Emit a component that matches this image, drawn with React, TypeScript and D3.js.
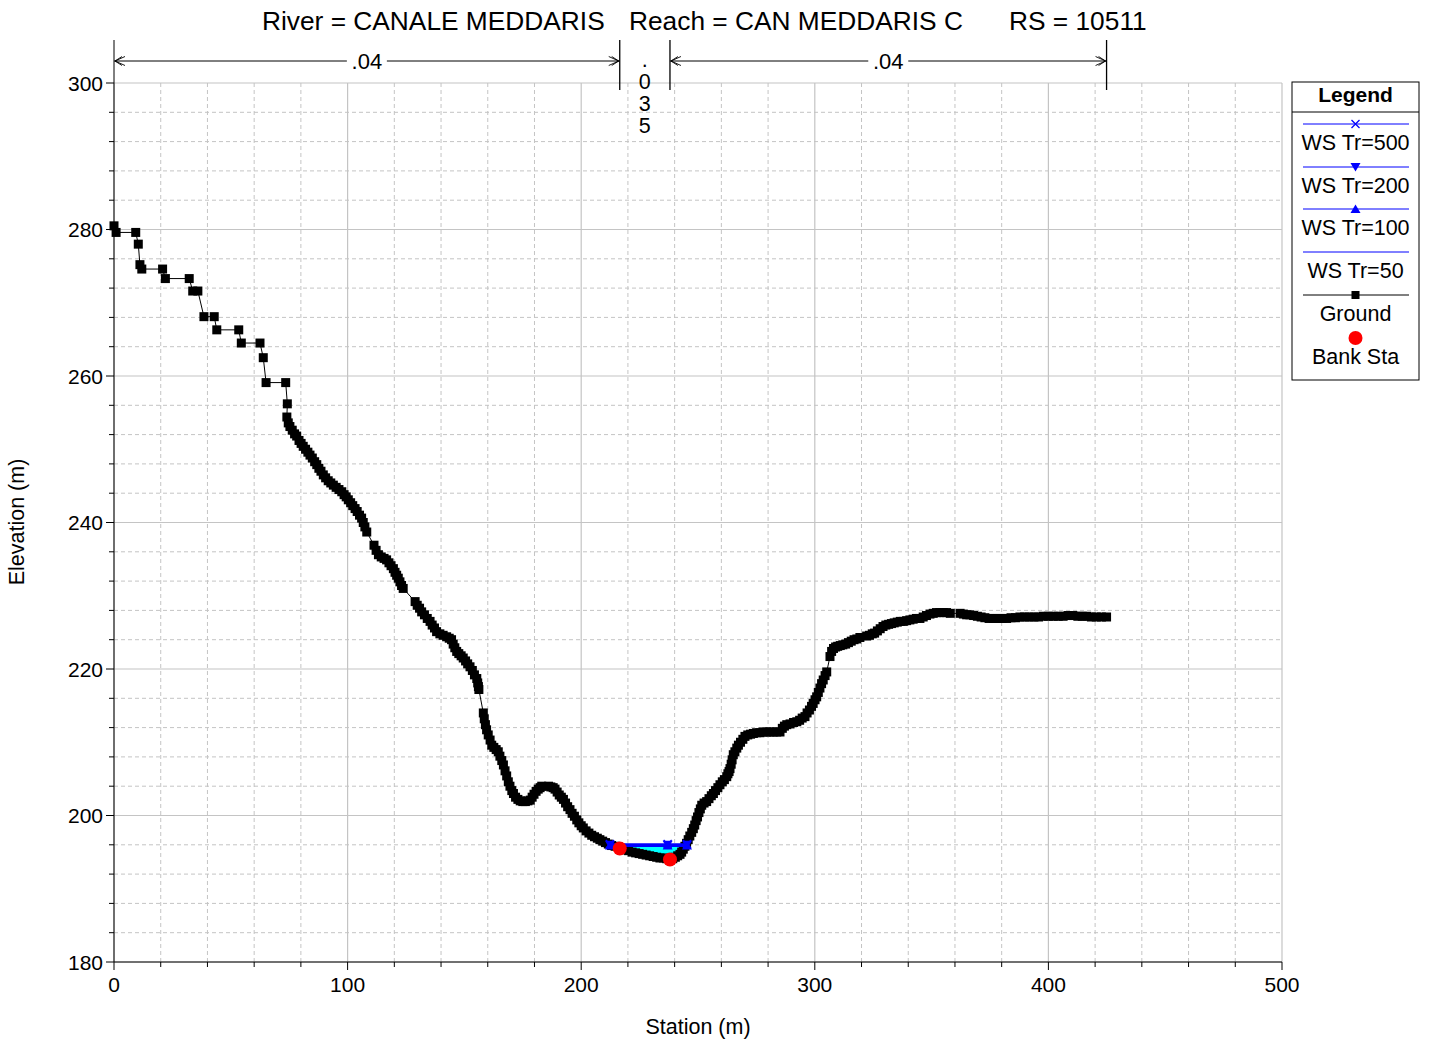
import React from 'react';
import * as d3 from 'd3';

// ---------- DATA ----------
const titleParts = ['River = CANALE MEDDARIS', 'Reach = CAN MEDDARIS C', 'RS = 10511'];
const xTicksMajor = [0, 100, 200, 300, 400, 500];
const yTicksMajor = [180, 200, 220, 240, 260, 280, 300];

// ground: [station, elevation]
const groundPoints: [number, number][] = [
  [0, 280.5], [0.9, 279.6], [9.3, 279.6], [10.4, 278.0], [11.1, 275.2], [11.9, 274.6], [20.8, 274.6],
  [22.0, 273.3], [32.2, 273.3], [33.7, 271.6], [35.9, 271.6], [38.5, 268.1], [42.9, 268.1], [44.0, 266.3],
  [53.4, 266.3], [54.5, 264.5], [62.5, 264.5], [63.9, 262.5], [65.1, 259.1], [73.5, 259.1], [74.2, 256.2],
  [74.0, 254.4], [74.6, 253.6], [75.3, 253.1], [76.3, 252.6], [77.3, 252.1], [78.2, 251.8], [79.2, 251.2],
  [80.1, 250.8], [81.0, 250.4], [82.0, 250.0], [83.0, 249.6], [83.9, 249.2], [84.9, 248.8], [85.9, 248.3],
  [86.8, 247.9], [87.7, 247.4], [88.6, 247.0], [89.6, 246.5], [90.6, 246.1], [91.7, 245.7], [92.8, 245.4],
  [93.9, 245.1], [95.1, 244.8], [96.3, 244.5], [97.5, 244.2], [98.5, 243.8], [99.4, 243.5], [100.3, 243.1],
  [101.3, 242.7], [102.2, 242.3], [103.2, 241.9], [104.1, 241.5], [105.1, 241.0], [106.0, 240.6],
  [106.7, 240.0], [107.4, 239.4], [108.2, 238.7],
  [111.3, 236.9], [112.2, 236.2], [113.2, 235.6], [114.4, 235.3], [115.6, 235.1], [116.7, 234.9],
  [117.7, 234.5], [118.6, 234.1], [119.6, 233.7], [120.3, 233.2], [121.0, 232.8], [121.7, 232.4],
  [122.4, 231.9], [123.1, 231.4], [123.8, 231.0],
  [128.9, 229.2], [129.8, 228.7], [130.8, 228.3], [131.7, 227.8], [132.9, 227.4], [134.1, 226.9],
  [135.3, 226.5], [136.2, 226.0], [137.2, 225.6], [138.1, 225.1], [139.5, 224.8], [140.9, 224.6],
  [142.4, 224.4], [143.5, 224.2], [144.5, 224.0], [145.2, 223.4], [145.9, 222.9], [146.7, 222.4],
  [147.6, 222.1], [148.6, 221.8], [149.5, 221.5], [150.5, 221.1], [151.4, 220.7], [152.4, 220.3],
  [153.4, 219.8], [154.3, 219.2], [155.3, 218.7], [155.7, 218.1], [156.0, 217.6], [156.2, 217.2],
  [158.1, 214.0], [158.5, 213.2], [159.0, 212.4], [159.5, 211.7], [160.2, 211.0], [161.0, 210.3],
  [161.7, 209.6], [162.6, 209.3], [163.6, 209.0], [164.5, 208.7], [165.2, 208.1], [166.0, 207.5],
  [166.7, 206.9], [167.4, 206.1], [168.1, 205.4], [168.8, 204.6], [169.5, 204.0], [170.3, 203.4],
  [171.0, 203.0], [171.9, 202.5], [172.9, 202.2], [173.9, 202.0], [175.0, 201.9], [176.1, 201.9],
  [177.2, 202.0], [178.2, 202.1], [179.0, 202.5], [179.8, 202.9], [180.7, 203.3], [181.6, 203.6],
  [182.4, 203.8], [183.1, 204.0],
  [186.0, 204.0], [187.0, 203.9], [188.0, 203.8], [188.8, 203.6], [189.7, 203.2], [190.6, 202.8],
  [191.5, 202.5], [192.4, 202.2], [193.3, 201.7], [194.2, 201.2], [195.2, 200.8], [196.1, 200.3],
  [197.1, 199.9], [198.1, 199.4], [199.0, 199.0], [200.0, 198.6], [200.9, 198.3], [202.1, 197.9],
  [203.3, 197.6], [204.5, 197.3], [205.7, 197.1], [206.9, 196.9], [208.0, 196.7], [209.2, 196.5],
  [210.4, 196.3], [211.6, 196.1], [213.0, 195.9], [214.5, 195.8], [215.9, 195.7], [217.3, 195.5],
  [218.8, 195.3], [220.3, 195.2], [221.8, 195.0], [223.3, 194.9], [224.8, 194.8], [226.3, 194.7],
  [227.8, 194.6], [229.3, 194.5], [230.8, 194.4], [232.3, 194.3], [233.7, 194.2], [235.2, 194.2],
  [236.6, 194.1], [238.0, 194.1], [239.2, 194.1], [240.3, 194.3], [241.3, 194.5], [242.3, 194.7],
  [243.0, 195.0], [243.7, 195.4], [244.4, 195.8], [245.1, 196.2], [245.8, 196.7], [246.5, 197.2],
  [247.3, 197.7], [248.0, 198.2], [248.6, 198.7], [249.2, 199.3], [249.8, 199.8], [250.4, 200.4],
  [251.0, 200.9], [251.6, 201.4], [252.6, 201.7], [253.7, 201.9], [254.7, 202.3], [255.7, 202.7],
  [256.6, 203.0], [257.5, 203.4], [258.5, 203.8], [259.4, 204.2], [260.4, 204.6], [261.3, 204.9],
  [262.3, 205.3], [262.8, 205.7], [263.3, 206.0], [263.7, 206.4], [264.2, 207.0], [264.6, 207.6],
  [265.1, 208.3], [265.8, 208.7], [266.6, 209.2], [267.3, 209.6], [268.2, 210.0], [269.2, 210.4],
  [270.1, 210.8], [271.3, 211.0], [272.5, 211.1], [273.7, 211.2], [275.1, 211.3], [276.5, 211.3],
  [277.9, 211.4], [279.4, 211.4], [280.8, 211.4], [282.2, 211.4], [283.7, 211.4], [285.1, 211.4],
  [286.1, 211.9], [287.0, 212.2], [288.0, 212.4], [289.4, 212.5], [290.9, 212.7], [292.3, 212.8],
  [293.5, 213.0], [294.6, 213.3], [295.8, 213.5], [296.7, 214.0], [297.7, 214.4], [298.6, 214.9],
  [299.3, 215.3], [300.1, 215.8], [300.8, 216.2], [301.5, 216.8], [302.2, 217.4], [302.9, 218.0],
  [303.6, 218.5], [304.4, 219.1], [305.1, 219.6],
  [306.5, 221.7], [307.2, 222.4], [308.0, 222.8], [308.9, 223.0], [309.8, 223.1], [310.9, 223.2],
  [312.0, 223.3], [313.2, 223.4], [314.4, 223.6], [315.6, 223.8], [316.8, 224.0], [318.0, 224.1],
  [319.3, 224.3],
  [322.2, 224.5], [323.4, 224.6], [324.6, 224.8], [325.6, 224.9], [326.8, 225.2], [328.0, 225.5],
  [329.2, 225.8], [330.4, 226.0], [331.6, 226.1], [332.8, 226.2], [334.0, 226.3], [335.3, 226.4],
  [336.6, 226.5], [337.9, 226.5], [339.3, 226.6], [340.7, 226.7], [342.1, 226.8], [343.5, 226.9],
  [345.0, 226.9], [346.4, 227.1], [347.8, 227.3], [349.3, 227.5], [350.7, 227.6], [352.1, 227.7],
  [353.5, 227.7], [355.0, 227.7], [356.4, 227.7], [358.0, 227.6],
  [362.2, 227.6], [363.6, 227.5], [365.0, 227.4], [366.4, 227.4], [368.0, 227.3], [369.6, 227.2],
  [371.2, 227.1], [372.8, 227.0], [374.6, 226.9], [376.4, 226.9], [378.3, 226.9], [380.2, 226.9],
  [382.1, 226.9], [384.0, 227.0], [385.9, 227.0], [387.8, 227.1], [389.8, 227.1], [391.8, 227.1],
  [393.8, 227.1], [395.8, 227.1], [397.8, 227.2], [400.0, 227.2], [402.1, 227.2], [404.2, 227.2],
  [406.3, 227.2], [408.4, 227.3], [410.5, 227.3], [412.6, 227.2], [414.5, 227.2], [416.4, 227.2],
  [418.4, 227.1], [420.5, 227.1], [422.7, 227.1], [424.9, 227.1],
];

const wsNames = ['WS Tr=500', 'WS Tr=200', 'WS Tr=100', 'WS Tr=50'];
const wsLevels = [196.1, 196.0, 195.9, 195.8];
const wsMarkers = ['x', 'down', 'up', 'none'];
const wsStations = [212.3, 237.0, 245.3];

const bankStations = [216.5, 238.0];
const bankElevations = [195.5, 194.0];

const nBreaks = [0, 216.5, 238.0, 424.9];
const nValues = ['.04', '.035', '.04'];

// ---------- CHART ----------
const FONT = '"Liberation Sans", Arial, Helvetica, sans-serif';
const W = 1430, H = 1042;
const x = d3.scaleLinear().domain([0, 500]).range([114, 1282]);
const y = d3.scaleLinear().domain([180, 300]).range([962, 83]);
const BLUE = '#0000ff';
const MS = 9; // ground marker size

function Marker({ kind, cx, cy, color }: { kind: string; cx: number; cy: number; color: string }) {
  if (kind === 'x') {
    const s = 4;
    return <path d={`M${cx - s},${cy - s}L${cx + s},${cy + s}M${cx - s},${cy + s}L${cx + s},${cy - s}`} stroke={color} strokeWidth={1.3} fill="none" />;
  }
  if (kind === 'down') {
    const s = 5;
    return <path d={`M${cx - s},${cy - s * 0.8}L${cx + s},${cy - s * 0.8}L${cx},${cy + s * 0.9}Z`} fill={color} />;
  }
  if (kind === 'up') {
    const s = 5;
    return <path d={`M${cx - s},${cy + s * 0.8}L${cx + s},${cy + s * 0.8}L${cx},${cy - s * 0.9}Z`} fill={color} />;
  }
  return null;
}

export default function App() {
  const xMinor = d3.range(0, 501, 20);
  const yMinor = d3.range(180, 301, 4);
  const line = d3.line<[number, number]>().x(d => x(d[0])).y(d => y(d[1]));

  const wsLeft = wsStations[0];
  const wsRight = wsStations[wsStations.length - 1];
  const lowWs = d3.min(wsLevels) as number;
  const waterPts = groundPoints.filter(p => p[0] >= wsLeft && p[0] <= wsRight);
  const waterArea = d3.area<[number, number]>()
    .x(d => x(d[0]))
    .y0(d => y(Math.min(d[1], lowWs)))
    .y1(() => y(lowWs));

  const annY = 61;
  const arrowL = (px: number) => `M${px + 11},${annY - 4.5}L${px + 1},${annY}L${px + 11},${annY + 4.5}M${px + 8},${annY - 4.5}L${px + 1},${annY}L${px + 8},${annY + 4.5}`;
  const arrowR = (px: number) => `M${px - 11},${annY - 4.5}L${px - 1},${annY}L${px - 11},${annY + 4.5}M${px - 8},${annY - 4.5}L${px - 1},${annY}L${px - 8},${annY + 4.5}`;

  const legendX = 1292, legendW = 127, legendTop = 82, legendBottom = 380;
  const lcx = legendX + legendW / 2;
  const legendLineY = [124, 167, 209, 252];

  return (
    <svg width={W} height={H} style={{ position: 'absolute', left: 0, top: 0, background: '#fff' }} fontFamily={FONT}>
      <rect x={0} y={0} width={W} height={H} fill="#fff" />
      {/* title */}
      <text x={262} y={30} fontSize={26.3} fill="#000">{titleParts[0]}</text>
      <text x={629} y={30} fontSize={26.3} fill="#000">{titleParts[1]}</text>
      <text x={1009} y={30} fontSize={26.3} fill="#000">{titleParts[2]}</text>

      {/* minor grid */}
      {xMinor.filter(v => v % 100 !== 0).map(v => (
        <line key={'xm' + v} x1={x(v)} x2={x(v)} y1={y(300)} y2={y(180)} stroke="#c4c4c4" strokeDasharray="4,3" />
      ))}
      {yMinor.filter(v => v % 20 !== 0).map(v => (
        <line key={'ym' + v} x1={x(0)} x2={x(500)} y1={y(v)} y2={y(v)} stroke="#c4c4c4" strokeDasharray="4,3" />
      ))}
      {/* major grid */}
      {xTicksMajor.map(v => (
        <line key={'xg' + v} x1={x(v)} x2={x(v)} y1={y(300)} y2={y(180)} stroke="#c4c4c4" strokeWidth={1.2} />
      ))}
      {yTicksMajor.map(v => (
        <line key={'yg' + v} x1={x(0)} x2={x(500)} y1={y(v)} y2={y(v)} stroke="#c4c4c4" strokeWidth={1.2} />
      ))}

      {/* axes */}
      <line x1={x(0)} x2={x(0)} y1={40} y2={y(180)} stroke="#000" />
      <line x1={x(0)} x2={x(500)} y1={y(180)} y2={y(180)} stroke="#000" />
      {xMinor.map(v => (
        <line key={'xt' + v} x1={x(v)} x2={x(v)} y1={y(180)} y2={y(180) + (v % 100 === 0 ? 8 : 5)} stroke="#000" />
      ))}
      {yMinor.map(v => (
        <line key={'yt' + v} x1={x(0) - (v % 20 === 0 ? 8 : 5)} x2={x(0)} y1={y(v)} y2={y(v)} stroke="#000" />
      ))}
      {xTicksMajor.map(v => (
        <text key={'xl' + v} x={x(v)} y={992} fontSize={21} textAnchor="middle">{v}</text>
      ))}
      {yTicksMajor.map(v => (
        <text key={'yl' + v} x={103} y={y(v) + 7.5} fontSize={21} textAnchor="end">{v}</text>
      ))}
      <text x={698} y={1034} fontSize={21.5} textAnchor="middle">Station (m)</text>
      <text transform={`translate(24,${522}) rotate(-90)`} fontSize={21.5} textAnchor="middle">Elevation (m)</text>

      {/* Manning n annotations */}
      {nBreaks.map((b, i) => (
        i === 0 ? null : <line key={'nb' + i} x1={x(b)} x2={x(b)} y1={40} y2={90} stroke="#000" strokeWidth={1.3} />
      ))}
      {[0, 2].map(i => {
        const a = x(nBreaks[i]), b = x(nBreaks[i + 1]);
        const mid = (a + b) / 2;
        return (
          <g key={'nseg' + i}>
            <line x1={a} x2={mid - 20} y1={annY} y2={annY} stroke="#000" />
            <line x1={mid + 20} x2={b} y1={annY} y2={annY} stroke="#000" />
            <path d={arrowL(a)} stroke="#000" fill="none" strokeWidth={0.9} />
            <path d={arrowR(b)} stroke="#000" fill="none" strokeWidth={0.9} />
            <text x={mid} y={annY + 8} fontSize={22} textAnchor="middle">{nValues[i]}</text>
          </g>
        );
      })}
      {nValues[1].split('').map((ch, k) => (
        <text key={'nc' + k} x={(x(nBreaks[1]) + x(nBreaks[2])) / 2} y={67 + k * 22} fontSize={21.5} textAnchor="middle">{ch}</text>
      ))}

      {/* water fill */}
      <path d={waterArea(waterPts) || ''} fill="#00ffff" />

      {/* ground */}
      <path d={line(groundPoints) || ''} fill="none" stroke="#000" strokeWidth={1} />
      {groundPoints.map((p, i) => (
        <rect key={'g' + i} x={x(p[0]) - MS / 2} y={y(p[1]) - MS / 2} width={MS} height={MS} fill="#000" />
      ))}

      {/* water surfaces */}
      {wsLevels.map((lv, i) => (
        <g key={'ws' + i}>
          <line x1={x(wsLeft)} x2={x(wsRight)} y1={y(lv)} y2={y(lv)} stroke={BLUE} strokeWidth={1.5} />
          {wsStations.map((s, j) => (
            <Marker key={j} kind={wsMarkers[i]} cx={x(s)} cy={y(lv)} color={BLUE} />
          ))}
        </g>
      ))}

      {/* bank stations */}
      {bankStations.map((s, i) => (
        <circle key={'bk' + i} cx={x(s)} cy={y(bankElevations[i])} r={7} fill="#ff0000" />
      ))}

      {/* legend */}
      <rect x={legendX} y={legendTop} width={legendW} height={legendBottom - legendTop} fill="#fff" stroke="#000" />
      <line x1={legendX} x2={legendX + legendW} y1={112} y2={112} stroke="#000" />
      <text x={lcx} y={102} fontSize={21} fontWeight="bold" textAnchor="middle">Legend</text>
      {wsNames.map((nm, i) => (
        <g key={'lg' + i}>
          <line x1={1303} x2={1409} y1={legendLineY[i]} y2={legendLineY[i]} stroke={BLUE} strokeWidth={1} />
          <Marker kind={wsMarkers[i]} cx={lcx} cy={legendLineY[i]} color={BLUE} />
          <text x={lcx} y={legendLineY[i] + 26} fontSize={21.5} textAnchor="middle">{nm}</text>
        </g>
      ))}
      <line x1={1303} x2={1409} y1={295} y2={295} stroke="#000" />
      <rect x={lcx - 4} y={291} width={8} height={8} fill="#000" />
      <text x={lcx} y={321} fontSize={21.5} textAnchor="middle">Ground</text>
      <circle cx={lcx} cy={338} r={7} fill="#ff0000" />
      <text x={lcx} y={364} fontSize={21.5} textAnchor="middle">Bank Sta</text>
    </svg>
  );
}
